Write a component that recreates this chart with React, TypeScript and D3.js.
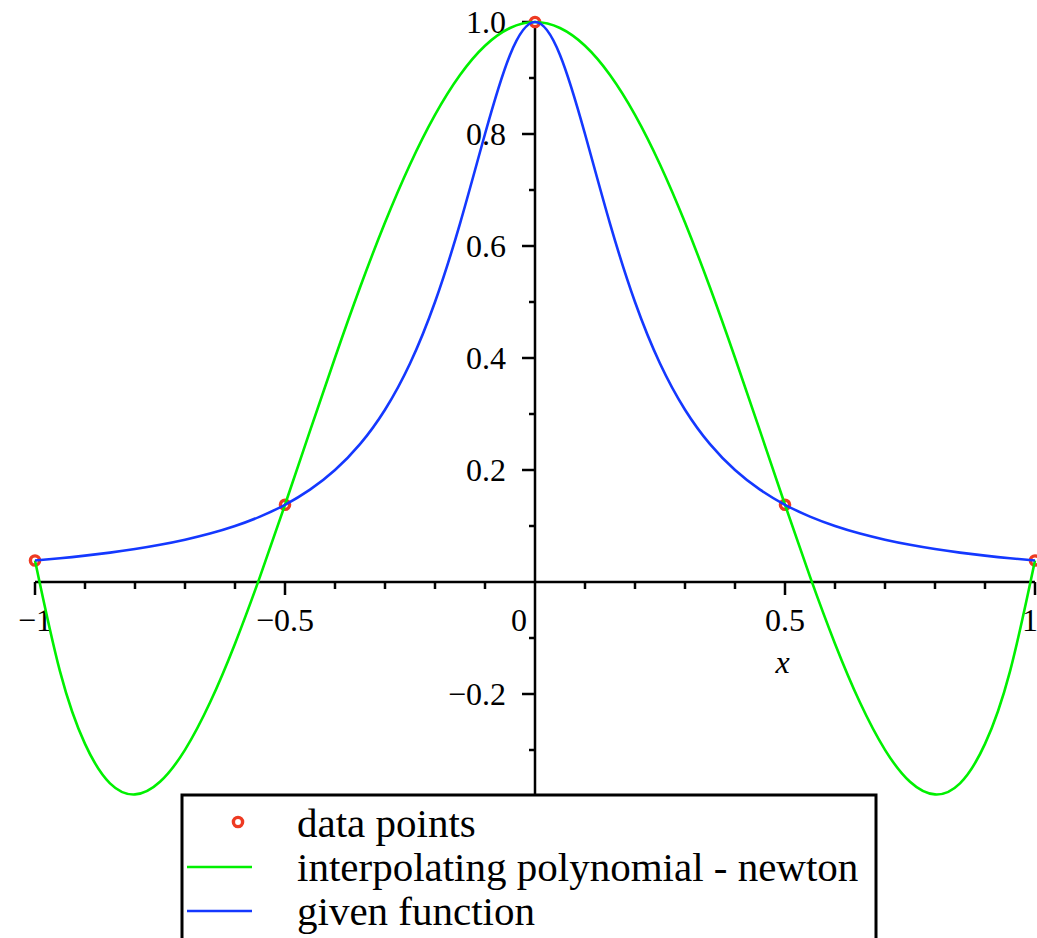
import React from "react";
import * as d3 from "d3";

const xs = [-1, -0.95, -0.9, -0.85, -0.8, -0.75, -0.7, -0.65, -0.6, -0.55, -0.5, -0.45, -0.4, -0.35, -0.3, -0.25, -0.2, -0.15, -0.1, -0.05, 0,
  0.05, 0.1, 0.15, 0.2, 0.25, 0.3, 0.35, 0.4, 0.45, 0.5, 0.55, 0.6, 0.65, 0.7, 0.75, 0.8, 0.85, 0.9, 0.95, 1];
const givenFunction = [0.0385, 0.0424, 0.0471, 0.0525, 0.0588, 0.0664, 0.0755, 0.0865, 0.1, 0.1168, 0.1379, 0.1649, 0.2, 0.2462, 0.3077, 0.3902, 0.5, 0.64, 0.8, 0.9412, 1,
  0.9412, 0.8, 0.64, 0.5, 0.3902, 0.3077, 0.2462, 0.2, 0.1649, 0.1379, 0.1168, 0.1, 0.0865, 0.0755, 0.0664, 0.0588, 0.0525, 0.0471, 0.0424, 0.0385];
const newtonPoly = [0.0385, -0.1595, -0.2891, -0.3595, -0.3793, -0.3568, -0.2997, -0.2153, -0.1101, 0.0096, 0.1379, 0.2698, 0.4005, 0.5258, 0.6419, 0.7456, 0.8342, 0.9054, 0.9576, 0.9893, 1,
  0.9893, 0.9576, 0.9054, 0.8342, 0.7456, 0.6419, 0.5258, 0.4005, 0.2698, 0.1379, 0.0096, -0.1101, -0.2153, -0.2997, -0.3568, -0.3793, -0.3595, -0.2891, -0.1595, 0.0385];
const dataX = [-1, -0.5, 0, 0.5, 1];
const dataY = [0.0385, 0.1379, 1, 0.1379, 0.0385];

const xMajor = [-1, -0.5, 0.5, 1];
const xMajorLabels = ["\u22121", "\u22120.5", "0.5", "1"];
const xMinor = [-0.9, -0.8, -0.7, -0.6, -0.4, -0.3, -0.2, -0.1, 0.1, 0.2, 0.3, 0.4, 0.6, 0.7, 0.8, 0.9];
const yMajor = [-0.2, 0.2, 0.4, 0.6, 0.8, 1.0];
const yMajorLabels = ["\u22120.2", "0.2", "0.4", "0.6", "0.8", "1.0"];
const yMinor = [-0.3, -0.1, 0.1, 0.3, 0.5, 0.7, 0.9];

const legendLabels = ["data points", "interpolating polynomial - newton", "given function"];

const GREEN = "#00f000";
const BLUE = "#1438ff";
const RED = "#ee3a22";
const FONT = "'Liberation Serif', 'Times New Roman', serif";

export default function App() {
  const x = d3.scaleLinear().domain([-1, 1]).range([35, 1035]);
  const y = d3.scaleLinear().domain([0, 1]).range([582, 22]);
  const yBottom = -0.38;
  const line = d3
    .line<number>()
    .x((_, i) => x(xs[i]))
    .y((d) => y(d))
    .curve(d3.curveNatural);

  const x0 = x(0);
  const y0 = y(0);

  return (
    <svg
      width={1037}
      height={938}
      style={{ position: "absolute", left: 0, top: 0, background: "#fff" }}
      fontFamily={FONT}
    >
      <rect width={1037} height={938} fill="#fff" />
      {/* axes */}
      <g stroke="#000" strokeWidth={2.5}>
        <line x1={x(-1)} x2={x(1)} y1={y0} y2={y0} />
        <line x1={x0} x2={x0} y1={y(1) - 2} y2={y(yBottom)} />
        {xMajor.map((v) => (
          <line key={"xM" + v} x1={x(v)} x2={x(v)} y1={y0} y2={y0 + 13} />
        ))}
        {xMinor.map((v) => (
          <line key={"xm" + v} x1={x(v)} x2={x(v)} y1={y0} y2={y0 + 7} />
        ))}
        {yMajor.map((v) => (
          <line key={"yM" + v} x1={x0 - 13} x2={x0} y1={y(v)} y2={y(v)} />
        ))}
        {yMinor.map((v) => (
          <line key={"ym" + v} x1={x0 - 6} x2={x0} y1={y(v)} y2={y(v)} />
        ))}
      </g>
      <g fontSize={32} fill="#000">
        {xMajor.map((v, i) => (
          <text
            key={"xl" + v}
            x={v === 1 ? 1038 : x(v)}
            y={y0 + 49}
            textAnchor={v === 1 ? "end" : "middle"}
          >
            {xMajorLabels[i]}
          </text>
        ))}
        <text x={x0 - 8} y={y0 + 49} textAnchor="end">0</text>
        {yMajor.map((v, i) => (
          <text key={"yl" + v} x={x0 - 29} y={y(v) + 11} textAnchor="end">
            {yMajorLabels[i]}
          </text>
        ))}
        <text x={x(0.495)} y={y0 + 91} textAnchor="middle" fontStyle="italic">x</text>
      </g>
      {/* data points */}
      {dataX.map((v, i) => (
        <circle key={"p" + i} cx={x(v)} cy={y(dataY[i])} r={4.6} fill="#fff" stroke={RED} strokeWidth={3.4} />
      ))}
      <path d={line(newtonPoly) || ""} fill="none" stroke={GREEN} strokeWidth={2.6} />
      <path d={line(givenFunction) || ""} fill="none" stroke={BLUE} strokeWidth={2.6} />
      {/* legend */}
      <rect x={182} y={795} width={694} height={200} fill="#fff" stroke="#000" strokeWidth={3} />
      <circle cx={238} cy={822} r={4.6} fill="#fff" stroke={RED} strokeWidth={3.4} />
      <line x1={187} x2={252} y1={867} y2={867} stroke={GREEN} strokeWidth={2.6} />
      <line x1={187} x2={252} y1={911} y2={911} stroke={BLUE} strokeWidth={2.6} />
      <g fontSize={41} fill="#000">
        {legendLabels.map((t, i) => (
          <text key={t} x={297} y={837 + i * 44}>{t}</text>
        ))}
      </g>
    </svg>
  );
}
